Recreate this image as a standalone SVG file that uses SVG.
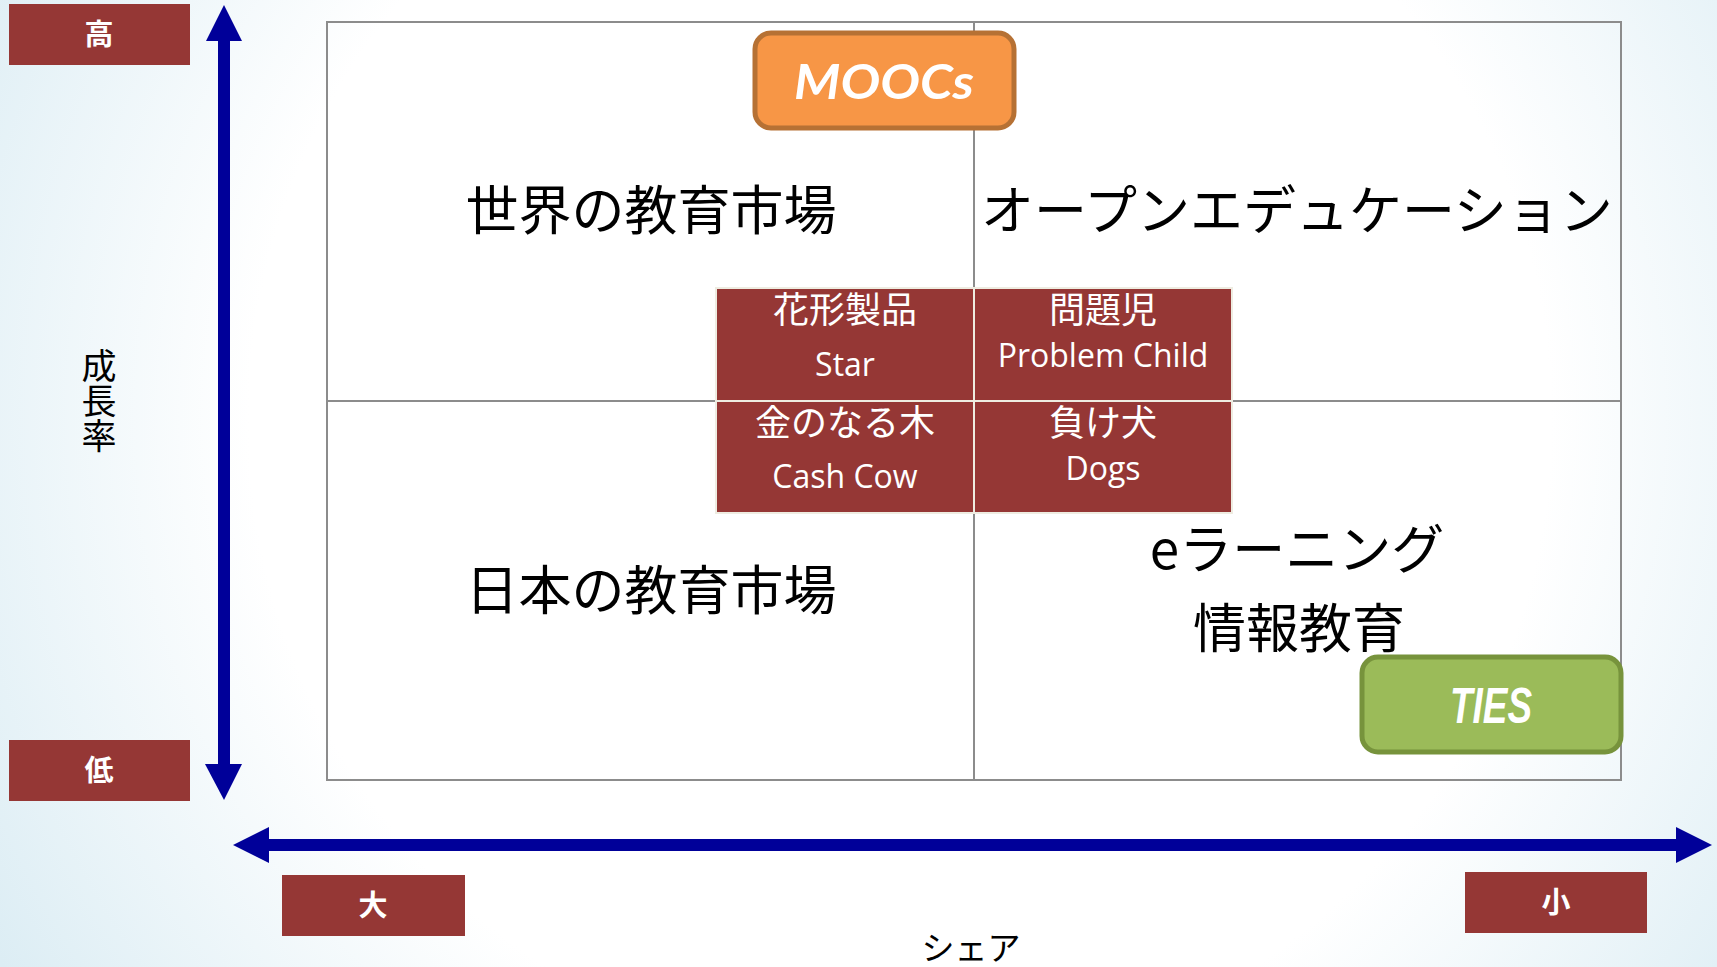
<svg xmlns="http://www.w3.org/2000/svg" width="1717" height="967" viewBox="0 0 1717 967">
<defs>
<radialGradient id="bg" gradientUnits="userSpaceOnUse" cx="900" cy="420" r="1050">
<stop offset="0" stop-color="#ffffff"/>
<stop offset="0.62" stop-color="#ffffff"/>
<stop offset="1" stop-color="#dcedf4"/>
</radialGradient>
<style>
.big{font-family:"Noto Sans CJK JP","Noto Sans CJK SC",sans-serif;font-size:53px;fill:#000;text-anchor:middle}
.cell{fill:#953735;stroke:#EEECE1;stroke-width:2}
.cj{font-family:"Open Sans","Noto Sans CJK JP",sans-serif;font-size:36px;fill:#fff;text-anchor:middle}
.en{font-family:"Open Sans","Noto Sans CJK JP",sans-serif;font-size:32px;fill:#fff;text-anchor:middle}
.axbox{fill:#953735}
.axt{font-family:"Noto Sans CJK JP",sans-serif;font-size:29px;font-weight:bold;fill:#fff;text-anchor:middle}
.lbl{font-family:"Noto Sans CJK JP",sans-serif;font-size:33px;fill:#000;text-anchor:middle}
.arr{fill:#000099}
.grid{fill:none;stroke:#8c8c8c;stroke-width:2}
</style>
</defs>
<rect x="0" y="0" width="1717" height="967" fill="url(#bg)"/>

<g id="grid">
<rect x="327" y="22" width="1294" height="758" fill="#fff" class="grid"/>
<line x1="974" y1="22" x2="974" y2="780" class="grid"/>
<line x1="327" y1="401" x2="1621" y2="401" class="grid"/>
</g>

<g id="connectors">
<rect class="arr" x="218" y="40" width="12" height="725"/>
<polygon class="arr" points="224,5 206,41 242,41"/>
<polygon class="arr" points="224,800 205,764 242,764"/>
<rect class="arr" x="268" y="839" width="1409" height="12"/>
<polygon class="arr" points="233,845 269,827 269,863"/>
<polygon class="arr" points="1712,845 1676,827 1676,863"/>
</g>

<g id="quadrant-texts">
<text class="big" x="651" y="230">世界の教育市場</text>
<text class="big" x="1297" y="230">オープンエデュケーション</text>
<text class="big" x="651" y="610">日本の教育市場</text>
<text class="big" x="1297" y="569">eラーニング</text>
<text class="big" x="1299" y="648">情報教育</text>
</g>

<g id="node-star">
<rect class="cell" x="716" y="288" width="258" height="113"/>
<text class="cj" x="845" y="323">花形製品</text>
<text class="en" x="845" y="376">Star</text>
</g>
<g id="node-problem-child">
<rect class="cell" x="974" y="288" width="258" height="113"/>
<text class="cj" x="1103" y="323">問題児</text>
<text class="en" x="1103" y="367">Problem Child</text>
</g>
<g id="node-cash-cow">
<rect class="cell" x="716" y="401" width="258" height="112"/>
<text class="cj" x="845" y="436">金のなる木</text>
<text class="en" x="845" y="488">Cash Cow</text>
</g>
<g id="node-dogs">
<rect class="cell" x="974" y="401" width="258" height="112"/>
<text class="cj" x="1103" y="436">負け犬</text>
<text class="en" x="1103" y="480">Dogs</text>
</g>

<g id="node-moocs">
<rect x="755" y="33" width="259" height="95" rx="16" fill="#F79646" stroke="#B67134" stroke-width="5"/>
<text x="884" y="99" font-family="Lato, sans-serif" font-size="47" font-weight="bold" font-style="italic" fill="#fff" text-anchor="middle" textLength="180" lengthAdjust="spacingAndGlyphs">MOOCs</text>
</g>

<g id="node-ties">
<rect x="1362" y="657" width="259" height="95" rx="16" fill="#9BBB59" stroke="#77933C" stroke-width="5"/>
<text x="1491" y="723" font-family="Liberation Sans, sans-serif" font-size="50" font-weight="bold" font-style="italic" fill="#fff" text-anchor="middle" textLength="82" lengthAdjust="spacingAndGlyphs">TIES</text>
</g>

<g id="node-high">
<rect class="axbox" x="9" y="4" width="181" height="61"/>
<text class="axt" x="99" y="45">高</text>
</g>
<g id="node-low">
<rect class="axbox" x="9" y="740" width="181" height="61"/>
<text class="axt" x="99" y="781">低</text>
</g>
<g id="node-large">
<rect class="axbox" x="282" y="875" width="183" height="61"/>
<text class="axt" x="373" y="916">大</text>
</g>
<g id="node-small">
<rect class="axbox" x="1465" y="872" width="182" height="61"/>
<text class="axt" x="1556" y="913">小</text>
</g>

<g id="axis-labels">
<text x="99" y="348" font-family="Noto Sans CJK JP, sans-serif" font-size="35" fill="#000" writing-mode="tb" style="writing-mode:vertical-rl" text-anchor="start">成長率</text>
<text class="lbl" x="971" y="960">シェア</text>
</g>
</svg>
